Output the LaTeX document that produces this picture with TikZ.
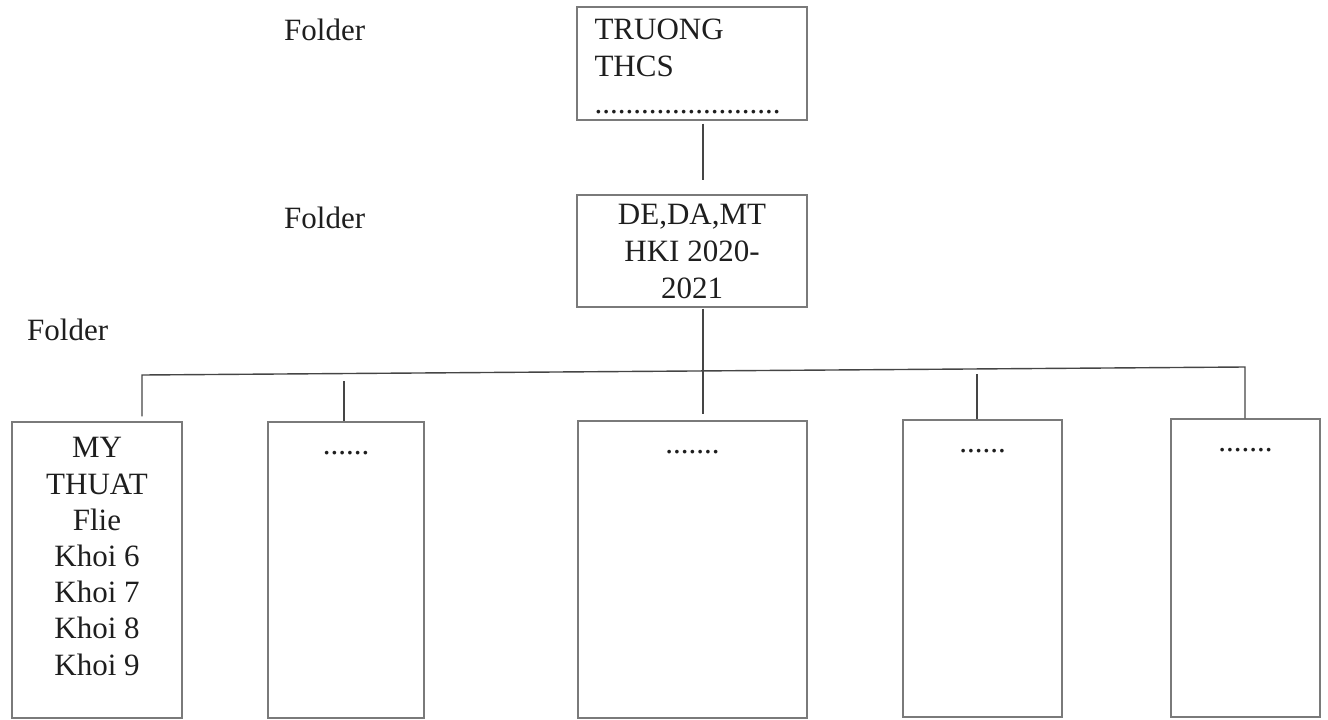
\documentclass[tikz,border=0pt]{standalone}
\usepackage{fontspec}
\setmainfont{Liberation Serif}
\definecolor{boxc}{HTML}{7A7A7A}
\definecolor{linec}{HTML}{454545}
\definecolor{txtc}{HTML}{1E1E1E}
\begin{document}
\begin{tikzpicture}[x=1pt,y=-1pt,
  box/.style={draw=boxc, line width=1.4pt, rectangle, inner sep=0pt},
  conn/.style={draw=linec, line width=1.4pt},
  txt/.style={text=txtc, font=\fontsize{31}{37}\selectfont, inner sep=0pt, align=center},
  btxt/.style={text=txtc, font=\fontsize{31}{36.2}\selectfont, inner sep=0pt, align=center}]
\useasboundingbox (0,0) rectangle (1328,720);
% top and middle boxes
\node[box, minimum width=230pt, minimum height=113pt] (top) at (692,63.5) {};
\node[txt, align=left, anchor=north west] (topt) at ([xshift=18pt,yshift=-12pt]top.north west) {TRUONG\\THCS\\........................};
\node[box, txt, minimum width=230pt, minimum height=112pt] (mid) at (692,251) {DE,DA,MT\\HKI 2020-\\2021};
% bottom boxes
\node[box, minimum width=170pt, minimum height=296pt] (b1) at (97,570) {};
\node[box, minimum width=156pt, minimum height=296pt] (b2) at (346,570) {};
\node[box, minimum width=229pt, minimum height=297pt] (b3) at (692.5,569.5) {};
\node[box, minimum width=159pt, minimum height=297pt] (b4) at (982.5,568.5) {};
\node[box, minimum width=149pt, minimum height=298pt] (b5) at (1245.5,568) {};
% texts in bottom boxes
\node[btxt, anchor=north] (b1t) at ([yshift=-16pt]b1.north) {MY\\THUAT\\Flie\\Khoi 6\\Khoi 7\\Khoi 8\\Khoi 9};
\node[txt, anchor=base] (b2t) at ([yshift=-33pt]b2.north) {......};
\node[txt, anchor=base] (b3t) at ([yshift=-33pt]b3.north) {.......};
\node[txt, anchor=base] (b4t) at ([yshift=-33pt]b4.north) {......};
\node[txt, anchor=base] (b5t) at ([yshift=-33pt]b5.north) {.......};
% folder labels
\node[txt, anchor=base west] (f1) at (284,40) {Folder};
\node[txt, anchor=base west] (f2) at (284,228) {Folder};
\node[txt, anchor=base west] (f3) at (27,340) {Folder};
% connectors
\coordinate (busL) at (142,375);
\coordinate (busR) at (1245,367);
\draw[conn] ([xshift=11pt,yshift=-3pt]top.south) -- ([xshift=11pt,yshift=14pt]mid.north);
\draw[conn] ([xshift=11pt,yshift=-1pt]mid.south) -- ([xshift=10.5pt,yshift=6pt]b3.north);
\draw[conn] ([xshift=45pt,yshift=5pt]b1.north) -- (busL) -- (busR) -- ([xshift=-0.5pt]b5.north);
\draw[conn] ([xshift=-2pt,yshift=40pt]b2.north) -- ([xshift=-2pt]b2.north);
\draw[conn] ([xshift=-5.5pt,yshift=45pt]b4.north) -- ([xshift=-5.5pt]b4.north);
\end{tikzpicture}
\end{document}
